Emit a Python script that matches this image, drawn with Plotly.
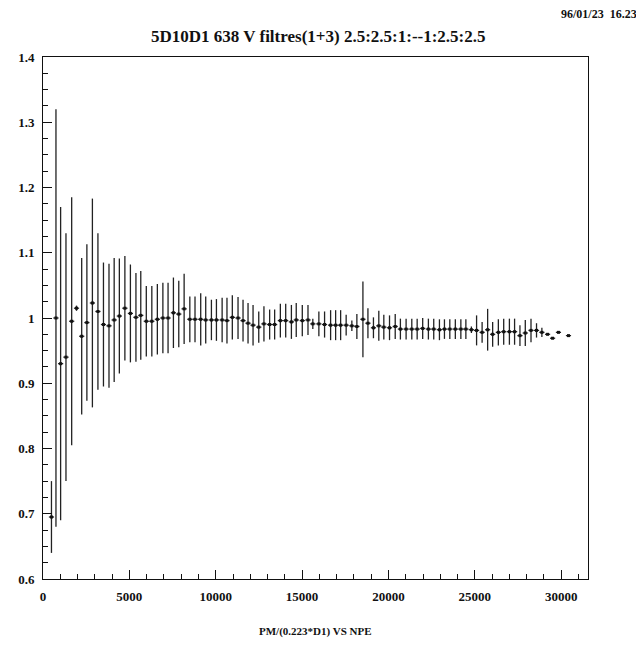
import plotly.graph_objects as go

# bin centres (NPE)
npe = [490, 750, 1020, 1330, 1660, 1940, 2240, 2540, 2860, 3180,
       3500, 3820, 4120, 4420, 4740, 5060, 5380, 5660, 5980, 6300,
       6620, 6940, 7240, 7550, 7860, 8170, 8500, 8800, 9130, 9420,
       9750, 10040, 10370, 10650, 10960, 11290, 11580, 11870, 12160, 12490,
       12790, 13120, 13410, 13740, 14050, 14380, 14660, 15010, 15340, 15620,
       15970, 16300, 16650, 16940, 17230, 17550, 17880, 18170, 18520, 18810,
       19130, 19440, 19730, 20060, 20390, 20690, 21020, 21350, 21660, 21980,
       22310, 22620, 22950, 23240, 23550, 23870, 24190, 24480, 24800, 25100,
       25420, 25740, 26030, 26360, 26670, 27000, 27300, 27610, 27920, 28250,
       28570, 28880, 29210, 29500, 29840, 30420]

ratio = [0.695, 1.000, 0.930, 0.940, 0.995, 1.015, 0.972, 0.993, 1.023, 1.010,
         0.990, 0.988, 0.997, 1.003, 1.015, 1.007, 1.001, 1.004, 0.995, 0.995,
         0.998, 1.000, 1.000, 1.008, 1.006, 1.014, 0.998, 0.998, 0.998, 0.997,
         0.997, 0.997, 0.997, 0.996, 1.001, 1.000, 0.996, 0.992, 0.989, 0.986,
         0.991, 0.990, 0.990, 0.996, 0.996, 0.994, 0.997, 0.996, 0.997, 0.991,
         0.991, 0.990, 0.989, 0.989, 0.989, 0.989, 0.988, 0.987, 0.998, 0.992,
         0.985, 0.988, 0.986, 0.985, 0.987, 0.983, 0.983, 0.983, 0.983, 0.984,
         0.983, 0.983, 0.982, 0.983, 0.983, 0.983, 0.983, 0.983, 0.982, 0.981,
         0.978, 0.982, 0.975, 0.978, 0.979, 0.979, 0.979, 0.973, 0.977, 0.981,
         0.981, 0.978, 0.975, 0.969, 0.978, 0.973]

err = [0.055, 0.320, 0.240, 0.190, 0.190, 0.004, 0.120, 0.120, 0.160, 0.120,
       0.095, 0.095, 0.095, 0.088, 0.080, 0.075, 0.068, 0.068, 0.054, 0.054,
       0.054, 0.054, 0.054, 0.054, 0.051, 0.054, 0.035, 0.035, 0.040, 0.036,
       0.031, 0.032, 0.034, 0.035, 0.034, 0.032, 0.032, 0.031, 0.031, 0.024,
       0.027, 0.023, 0.023, 0.026, 0.026, 0.026, 0.026, 0.024, 0.023, 0.008,
       0.019, 0.020, 0.023, 0.023, 0.023, 0.016, 0.008, 0.019, 0.058, 0.023,
       0.016, 0.023, 0.019, 0.019, 0.019, 0.016, 0.016, 0.016, 0.016, 0.016,
       0.016, 0.016, 0.016, 0.015, 0.015, 0.015, 0.015, 0.015, 0.005, 0.023,
       0.016, 0.032, 0.019, 0.020, 0.020, 0.020, 0.020, 0.016, 0.020, 0.018,
       0.011, 0.007, 0.0, 0.0, 0.0, 0.0]

half_bin = 150

x_tickvals = [0, 5000, 10000, 15000, 20000, 25000, 30000]
x_ticktext = ["0", "5000", "10000", "15000", "20000", "25000", "30000"]
y_tickvals = [0.6, 0.7, 0.8, 0.9, 1.0, 1.1, 1.2, 1.3, 1.4]
y_ticktext = ["0.6", "0.7", "0.8", "0.9", "1", "1.1", "1.2", "1.3", "1.4"]

title_text = "5D10D1 638 V filtres(1+3) 2.5:2.5:1:--1:2.5:2.5"
date_text = "96/01/23  16.23"
xlabel_text = "PM/(0.223*D1) VS NPE"

serif = "Liberation Serif"

# the page body has an 8px margin: compensate so the frame lands where wanted
OFF = 8
W, H = 644 - OFF, 669 - OFF
PL, PR, PT, PB = 43, 588, 57, 579          # wanted frame in window pixels
L = PL - OFF
R = (OFF + W) - PR
T = PT - OFF
B = (OFF + H) - PB
pw = PR - PL
ph = PB - PT


def px(xp):
    return (xp - PL) / pw


def py(yp):
    return (PB - yp) / ph


fig = go.Figure()
fig.add_trace(go.Scatter(
    x=npe, y=ratio, mode="markers",
    marker=dict(symbol="square", size=3, color="#111"),
    error_y=dict(type="data", array=err, visible=True, color="#222",
                 thickness=1.3, width=0),
    error_x=dict(type="constant", value=half_bin, visible=True, color="#222",
                 thickness=1.3, width=0),
    showlegend=False,
))

fig.update_layout(
    width=W, height=H,
    margin=dict(l=L, r=R, t=T, b=B, autoexpand=False),
    plot_bgcolor="white", paper_bgcolor="white",
    font=dict(family=serif, color="#111"),
    annotations=[
        dict(text="<b>" + title_text + "</b>", x=px(318), y=py(37),
             xref="paper", yref="paper", xanchor="center", yanchor="middle",
             showarrow=False, font=dict(size=17, family=serif)),
        dict(text="<b>" + date_text + "</b>", x=px(639), y=py(14),
             xref="paper", yref="paper", xanchor="right", yanchor="middle",
             showarrow=False, font=dict(size=12, family=serif)),
        dict(text="<b>" + xlabel_text + "</b>", x=px(315), y=py(631),
             xref="paper", yref="paper", xanchor="center", yanchor="middle",
             showarrow=False, font=dict(size=11, family=serif)),
    ],
)

fig.update_xaxes(
    range=[0, 31550], showgrid=False, zeroline=False, automargin=False,
    showline=True, linecolor="#111", linewidth=1, mirror=True,
    ticks="inside", ticklen=9, tickcolor="#111", tickwidth=1,
    tickvals=x_tickvals, ticktext=x_ticktext,
    tickfont=dict(size=13, family=serif, weight="bold"),
    ticklabelstandoff=5,
    minor=dict(ticks="inside", dtick=1000, tick0=0, ticklen=5,
               tickcolor="#111", tickwidth=1, showgrid=False),
)
fig.update_yaxes(
    range=[0.6, 1.4], showgrid=False, zeroline=False, automargin=False,
    showline=True, linecolor="#111", linewidth=1, mirror=True,
    ticks="inside", ticklen=9, tickcolor="#111", tickwidth=1,
    tickvals=y_tickvals, ticktext=y_ticktext,
    tickfont=dict(size=13, family=serif, weight="bold"),
    ticklabelstandoff=5,
    minor=dict(ticks="inside", dtick=0.025, tick0=0.6, ticklen=5,
               tickcolor="#111", tickwidth=1, showgrid=False),
)

fig.write_html("out.html")
